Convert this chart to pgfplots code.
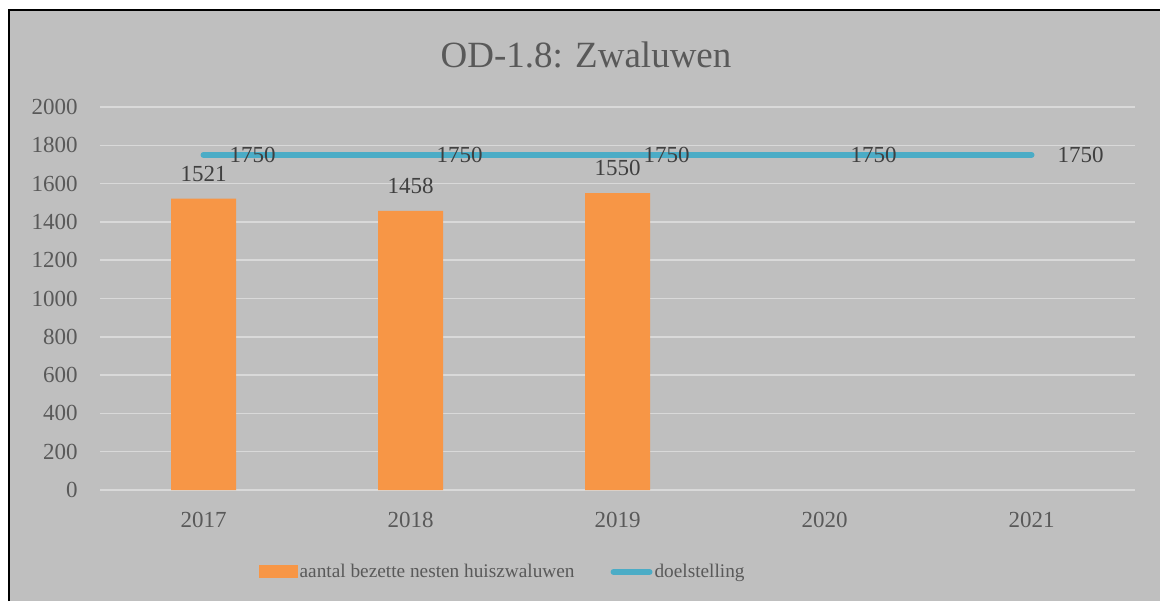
\documentclass[border=0pt]{standalone}
\usepackage{fontspec}
\setmainfont{Liberation Serif}
\usepackage{pgfplots}
\pgfplotsset{compat=1.18}
\definecolor{bgc}{HTML}{BFBFBF}
\definecolor{gridc}{HTML}{D9D9D9}
\definecolor{barc}{HTML}{F79646}
\definecolor{linec}{HTML}{4BACC6}
\definecolor{tickc}{HTML}{595959}
\definecolor{labc}{HTML}{404040}
\begin{document}
\begin{tikzpicture}
\useasboundingbox (0,0) rectangle (580pt,300.5pt);
\fill[bgc] (4.25pt,0) rectangle (580pt,295.25pt);
\draw[black, line width=1pt] (4.25pt,0) -- (4.25pt,295.25pt) -- (580pt,295.25pt);
\begin{axis}[
  at={(50pt,55.5pt)}, anchor=south west,
  scale only axis, width=517.5pt, height=191.5pt,
  xmin=-0.5, xmax=4.5, ymin=0, ymax=2000,
  axis line style={draw=none},
  xtick={0,1,2,3,4}, xticklabels={2017,2018,2019,2020,2021},
  ytick={0,200,...,2000},
  major tick length=0pt,
  ymajorgrids, major grid style={gridc, line width=0.75pt},
  /pgf/number format/assume math mode=true,
  /pgf/number format/1000 sep={},
  tick label style={font=\fontsize{11.5}{13}\selectfont, text=tickc},
  yticklabel style={anchor=east, inner sep=0pt, xshift=-11pt},
  xticklabel style={anchor=center, inner sep=0pt, yshift=-15pt},
  clip=false,
  legend style={at={(0.389,-0.214)}, anchor=center, draw=none, fill=none,
    legend columns=2, font=\fontsize{9.65}{12}\selectfont, text=tickc,
    /tikz/every even column/.append style={column sep=17pt},
    nodes={inner sep=1pt}},
]
\addplot[ybar, bar width=32.5pt, fill=barc, draw=none,
  nodes near coords, nodes near coords style={anchor=south, inner sep=0pt, yshift=8.5pt, font=\fontsize{11.5}{13}\selectfont, text=labc},
  legend image code/.code={\fill[barc] (0pt,-3.25pt) rectangle (19.5pt,3.25pt);}]
  coordinates {(0,1521) (1,1458) (2,1550)};
\addlegendentry{aantal bezette nesten huiszwaluwen}
\addplot[linec, line width=3pt, line cap=round, mark=none,
  nodes near coords, nodes near coords style={anchor=west, inner sep=0pt, xshift=11.5pt, font=\fontsize{11.5}{13}\selectfont, text=labc},
  legend image code/.code={\draw[linec, line width=3pt, line cap=round] (1.5pt,0pt) -- (19.5pt,0pt);}]
  coordinates {(0,1750) (1,1750) (2,1750) (3,1750) (4,1750)};
\addlegendentry{doelstelling}
\end{axis}
\node[text=tickc, font=\fontsize{18.5}{22}\selectfont, inner sep=0pt] at (293pt,273pt) {OD-1.8: Zwaluwen};
\end{tikzpicture}
\end{document}
